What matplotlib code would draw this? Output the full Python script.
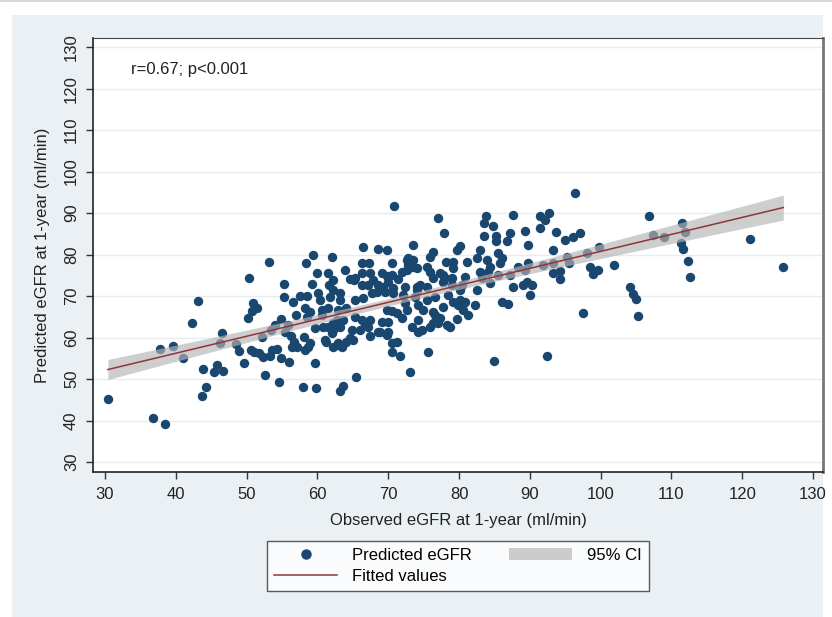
import numpy as np
import matplotlib.pyplot as plt
from matplotlib.patches import Rectangle, Patch
from matplotlib.lines import Line2D

plt.rcParams['font.family'] = ['Liberation Sans', 'DejaVu Sans']

# observed eGFR (x) and predicted eGFR (y), left to right
obs = [
    30.4, 36.8, 38.5, 37.8, 39.6, 41.0, 42.3, 43.2, 43.7, 43.8, 44.3, 45.4, 45.8, 46.7, 46.2, 46.5, 48.5, 48.9, 49.6,
    50.2, 50.8, 50.9, 51.5, 50.3, 50.6, 51.1, 51.8, 52.2, 52.3, 52.6, 53.2, 53.3, 53.6, 54.3, 54.5, 54.8, 54.0, 54.8, 53.4,
    55.3, 55.3, 56.5, 57.5, 58.5, 59.2, 59.9, 58.4, 59.4, 55.4, 55.9, 56.3, 56.0, 56.4, 56.7, 57.1, 57.0, 58.1, 58.0, 58.2,
    58.7, 59.0, 58.5, 59.7, 59.8, 58.2, 58.9, 59.7,
    60.1, 60.4, 61.5, 62.0, 61.6, 62.2, 63.2, 62.2, 61.8, 63.2, 60.6, 61.5, 60.6, 61.2, 61.5, 60.8, 62.2, 62.7, 61.1,
    62.2, 62.8, 63.2, 63.2, 63.6, 63.4, 64.1, 64.6, 64.9, 62.9, 64.1, 62.2, 63.6, 62.1, 62.9, 63.9, 64.6, 65.2,
    65.4, 65.3, 66.0, 66.7, 67.4, 67.4, 68.8, 69.8, 70.0, 66.3, 67.1, 69.1, 70.0, 65.0, 68.6, 65.3, 66.4, 67.7, 69.8,
    66.3, 67.1, 67.9, 68.6, 69.3, 70.0, 68.4, 69.5, 69.8, 66.3, 66.3, 67.3, 67.4, 69.1, 66.5, 68.5, 69.8, 65.3,
    70.8, 70.5, 70.5, 71.4, 71.9, 72.6, 72.4, 72.6, 72.8, 73.5, 72.8, 73.5, 74.1, 74.5, 74.0, 72.1, 73.8, 72.4, 70.7,
    70.7, 70.5, 71.2, 71.9, 72.6, 73.4, 74.2, 74.8, 74.2, 74.2, 74.9, 70.5, 71.2, 71.7, 70.5, 73.1, 74.1, 73.5,
    75.5, 75.9, 76.3, 75.9, 76.3, 77.3, 77.7, 78.2, 79.2, 79.7, 80.1, 79.2, 79.0, 78.0, 77.7, 79.0, 80.4, 80.8, 75.5,
    75.5, 76.6, 78.4, 79.2, 79.9, 80.6, 80.1, 80.8, 77.7, 76.3, 76.6, 77.3, 79.7, 78.3, 78.7, 77.0, 76.3, 75.9, 80.1,
    77.0, 77.9, 75.6,
    81.1, 82.5, 83.0, 83.2, 84.1, 84.4, 85.5, 85.5, 86.0, 85.8, 84.4, 83.0, 84.0, 83.8, 83.5, 84.8, 83.5, 85.2, 85.2,
    86.8, 87.2, 87.6, 89.3, 89.8, 88.3, 89.3, 89.7, 87.6, 89.0, 89.6, 87.2, 86.0, 86.9, 82.3, 81.3, 82.5, 84.9,
    90.3, 90.0, 91.4, 92.1, 92.7, 93.7, 91.4, 95.0, 96.1, 97.1, 93.3, 93.3, 94.3, 94.3, 95.5, 93.3, 91.9, 95.3, 98.1,
    99.8, 98.5, 98.9, 99.6, 101.9, 97.5, 96.4, 92.4, 104.2, 104.6, 105.0, 105.3, 106.8, 107.4, 108.9, 111.5, 111.4,
    111.6, 111.9, 112.3, 112.6, 121.1, 125.8,
]
pred = [
    45.2, 40.6, 39.2, 57.2, 58.0, 55.0, 63.5, 68.8, 45.9, 52.4, 48.2, 51.6, 53.5, 52.0, 58.7, 61.1, 58.4, 56.8, 53.9,
    64.8, 66.5, 68.4, 67.1, 74.3, 57.0, 56.5, 56.2, 60.1, 55.3, 51.0, 78.2, 55.6, 57.0, 57.2, 49.2, 55.0, 63.0, 64.5, 61.8,
    72.8, 69.8, 68.5, 70.0, 70.1, 73.0, 75.6, 78.0, 79.9, 61.4, 63.0, 60.4, 54.1, 57.8, 58.9, 57.7, 65.4, 60.2, 48.1, 57.0,
    57.7, 58.7, 65.0, 53.9, 47.8, 67.1, 66.1, 62.3,
    70.7, 69.0, 75.6, 79.4, 72.7, 71.4, 70.7, 73.9, 69.8, 69.0, 66.6, 67.1, 65.4, 58.9, 62.5, 62.5, 61.8, 58.2, 59.4,
    57.7, 64.2, 62.5, 47.1, 48.3, 57.8, 58.9, 59.9, 61.8, 66.6, 67.1, 63.5, 64.2, 61.1, 58.7, 76.3, 74.0, 73.9,
    50.6, 65.0, 61.8, 63.0, 60.4, 64.2, 61.4, 60.6, 63.7, 64.2, 62.5, 63.7, 61.3, 59.4, 61.3, 69.1, 69.5, 70.7, 66.6,
    72.7, 72.7, 73.9, 72.7, 72.2, 73.4, 71.0, 71.0, 74.8, 75.6, 77.9, 77.9, 75.5, 75.5, 81.9, 81.3, 81.1, 74.3,
    91.6, 78.0, 75.0, 74.0, 75.8, 76.3, 72.3, 78.7, 77.5, 77.0, 79.2, 82.3, 76.7, 72.7, 71.4, 70.2, 69.8, 68.3, 70.7,
    71.9, 66.3, 65.9, 64.7, 66.6, 62.5, 64.2, 61.8, 61.3, 67.8, 66.6, 56.5, 58.9, 55.5, 58.7, 51.7, 72.2, 78.7,
    77.0, 79.4, 80.6, 75.8, 74.3, 75.5, 75.0, 78.2, 78.2, 81.1, 82.0, 76.7, 74.3, 74.3, 73.4, 72.7, 72.7, 74.6, 72.2,
    69.0, 69.8, 70.2, 68.5, 67.8, 66.6, 69.0, 68.5, 67.3, 66.1, 65.4, 64.7, 64.5, 63.0, 62.5, 63.5, 63.5, 62.5, 71.4,
    88.8, 85.2, 56.5,
    78.2, 79.2, 81.1, 74.3, 75.8, 73.1, 75.0, 80.4, 79.1, 77.9, 77.0, 75.8, 78.7, 89.3, 87.6, 86.9, 84.5, 84.5, 83.3,
    83.3, 85.2, 89.5, 85.7, 82.3, 77.0, 76.3, 77.9, 72.2, 72.7, 73.4, 75.0, 68.6, 68.1, 67.8, 65.4, 71.4, 54.3,
    72.7, 70.2, 89.3, 88.3, 90.0, 85.4, 86.4, 83.5, 84.2, 85.2, 81.1, 77.9, 76.0, 74.1, 77.9, 75.5, 77.5, 79.4, 80.4,
    81.8, 77.0, 75.3, 76.3, 77.5, 65.9, 94.8, 55.5, 72.2, 70.5, 69.3, 65.2, 89.3, 84.7, 84.2, 87.6, 82.8,
    81.3, 85.4, 78.4, 74.6, 83.7, 77.0,
]

ticks = [30, 40, 50, 60, 70, 80, 90, 100, 110, 120, 130]
note = "r=0.67; p<0.001"
x_label = "Observed eGFR at 1-year (ml/min)"
y_label = "Predicted eGFR at 1-year (ml/min)"

navy = '#1a476f'
maroon = '#90353b'
ci_grey = '#b4b4b4'
region = '#eaf0f3'

x = np.array(obs)
y = np.array(pred)

# linear fit with 95% CI of the mean, like Stata's lfitci
slope, icept = np.polyfit(x, y, 1)
n = len(x)
resid = y - (icept + slope * x)
s = np.sqrt(np.sum(resid ** 2) / (n - 2))
sxx = np.sum((x - x.mean()) ** 2)
xg = np.linspace(x.min(), x.max(), 200)
yg = icept + slope * xg
hw = 1.968 * s * np.sqrt(1 / n + (xg - x.mean()) ** 2 / sxx)

fig = plt.figure(figsize=(8.32, 6.17), dpi=100)
fig.patch.set_facecolor('white')
fig.patches.append(Rectangle((12 / 832, 0), 811 / 832, 602 / 617,
                             transform=fig.transFigure, facecolor=region,
                             edgecolor='none', zorder=-2))
fig.add_artist(Line2D([0, 1], [0.998, 0.998], transform=fig.transFigure,
                      color='#d8d8d8', lw=1.5))

ax = fig.add_axes([93 / 832, 1 - 472 / 617, 730 / 832, 434 / 617])
ax.set_facecolor('white')

ax.scatter(x, y, s=46, color=navy, linewidths=0, zorder=3)
ax.fill_between(xg, yg - hw, yg + hw, color=ci_grey, alpha=0.65,
                linewidth=0, zorder=4)
ax.plot(xg, yg, color=maroon, lw=1.1, zorder=5)

ax.set_xlim(28.3, 131.4)
ax.set_ylim(27.6, 132.2)
ax.set_xticks(ticks)
ax.set_yticks(ticks)
ax.grid(axis='y', color='#e6edf1', lw=1.0, zorder=0)
ax.set_axisbelow(True)

ax.tick_params(axis='both', direction='out', length=5, width=1,
               labelsize=12, color='#333333', labelcolor='#222222')
ax.tick_params(axis='x', pad=6)
ax.tick_params(axis='y', pad=5, labelrotation=90)
for lbl in ax.get_yticklabels():
    lbl.set_va('center')

for side in ['left', 'bottom']:
    ax.spines[side].set_color('#222222')
    ax.spines[side].set_linewidth(1.2)
ax.spines['top'].set_color('#444444')
ax.spines['right'].set_color('#777777')
ax.spines['right'].set_linewidth(2)

ax.set_xlabel(x_label, fontsize=12, color='#222222', labelpad=8)
ax.set_ylabel(y_label, fontsize=12, color='#222222', labelpad=10)

ax.text(0.052, 0.928, note, transform=ax.transAxes, fontsize=12,
        color='#222222', va='center', ha='left')

handles = [
    Line2D([], [], marker='o', ls='', color=navy, markersize=6.5),
    Line2D([], [], color=maroon, lw=1.1),
    Patch(facecolor=ci_grey, alpha=0.65, edgecolor='none'),
]
labels = ["Predicted eGFR", "Fitted values", "95% CI"]
leg = fig.legend(handles, labels, ncol=2, loc='center',
                 bbox_to_anchor=(458 / 832, 1 - 566 / 617),
                 fontsize=12, frameon=True, fancybox=False,
                 edgecolor='#333333', handlelength=3.8, handletextpad=0.9,
                 columnspacing=2.2, labelspacing=0.35, borderpad=0.45)
leg.get_frame().set_linewidth(1.0)

fig.savefig('out.png', dpi=100, facecolor=fig.get_facecolor())
